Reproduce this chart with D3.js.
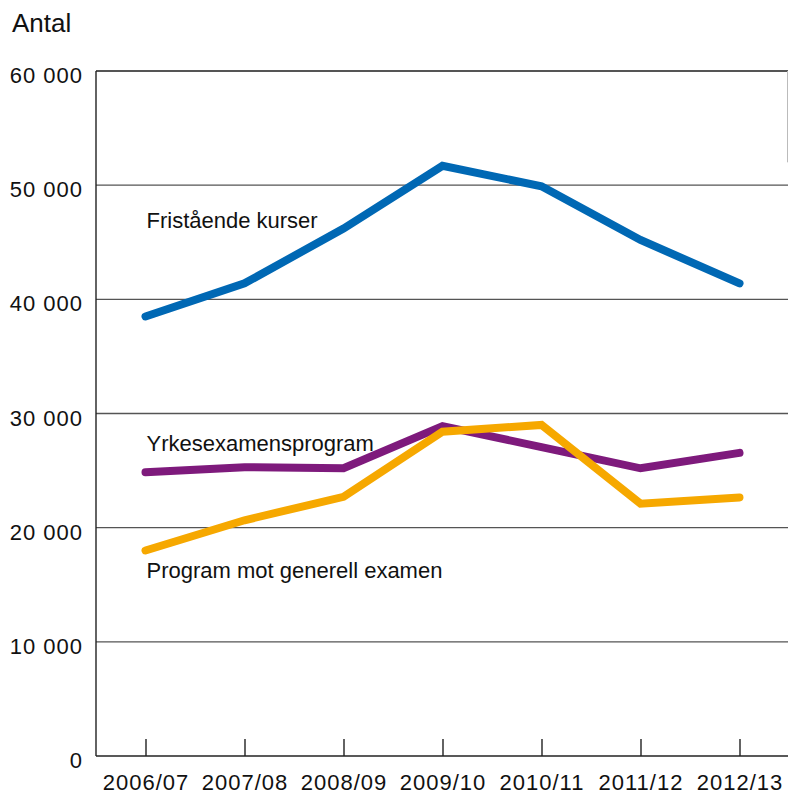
<!DOCTYPE html>
<html>
<head>
<meta charset="utf-8">
<script src="https://cdn.jsdelivr.net/npm/d3@7"></script>
<style>
  body { margin: 0; background: #fff; }
  text { font-family: "Liberation Sans", Arial, Helvetica, sans-serif; fill: #111; }
</style>
</head>
<body>
<div id="chart_container"></div>
<script>
// -- DATA -- //
const years = ["2006/07", "2007/08", "2008/09", "2009/10", "2010/11", "2011/12", "2012/13"];
const fristaende = [38500, 41400, 46200, 51700, 49900, 45200, 41400];
const yrkesexamen = [24850, 25300, 25200, 28900, 27050, 25200, 26550];
const generell = [18000, 20650, 22700, 28400, 29000, 22100, 22650];
const yTicks = [0, 10000, 20000, 30000, 40000, 50000, 60000];

// series table built from the arrays above (labelAt = baseline of the label, in data units)
const series = [
  { name: "Fristående kurser", values: fristaende, color: "#0068b4", labelAt: 46250 },
  { name: "Yrkesexamensprogram", values: yrkesexamen, color: "#7e1a7c", labelAt: 26750 },
  { name: "Program mot generell examen", values: generell, color: "#f6a800", labelAt: 15600 },
];

// -- SIZES -- //
const width = 788;
const height = 794;
const margin = { top: 71, right: 0, bottom: 38, left: 96 };

const svg = d3.select("#chart_container")
  .append("svg")
  .attr("width", width)
  .attr("height", height);

// scales
const x = d3.scalePoint()
  .domain(years)
  .range([margin.left, margin.left + 693])
  .padding(0.5);

const y = d3.scaleLinear()
  .domain([0, 60000])
  .range([height - margin.bottom, margin.top]);

// number format with space as thousands separator
const fmt = (d) => d3.format(",")(d).replace(/,/g, " ");

// gridlines
svg.append("g")
  .selectAll("line")
  .data(yTicks.filter((d) => d > 0))
  .join("line")
  .attr("x1", margin.left)
  .attr("x2", width)
  .attr("y1", (d) => y(d))
  .attr("y2", (d) => y(d))
  .attr("stroke", "#555")
  .attr("stroke-width", (d) => (d === 60000 ? 2 : 1.4));

// small light line at the right edge (as in the original)
svg.append("line")
  .attr("x1", width - 0.5)
  .attr("x2", width - 0.5)
  .attr("y1", y(60000))
  .attr("y2", y(52000))
  .attr("stroke", "#bbb")
  .attr("stroke-width", 1);

// y axis labels
svg.append("g")
  .selectAll("text")
  .data(yTicks)
  .join("text")
  .attr("x", 83)
  .attr("y", (d) => y(d) + 12)
  .attr("text-anchor", "end")
  .style("font-size", "22px")
  .style("letter-spacing", "1px")
  .text(fmt);

// y axis line
svg.append("line")
  .attr("x1", margin.left)
  .attr("x2", margin.left)
  .attr("y1", y(60000))
  .attr("y2", y(0))
  .attr("stroke", "#222")
  .attr("stroke-width", 1.4);

// x axis with ticks pointing up into the plot
const xAxis = svg.append("g")
  .attr("transform", `translate(0, ${y(0)})`)
  .call(d3.axisBottom(x).tickSize(-17).tickPadding(0).tickSizeOuter(0));

xAxis.select(".domain")
  .attr("d", `M${margin.left},0H${width}`)
  .attr("stroke", "#222")
  .attr("stroke-width", 1.6);
xAxis.selectAll(".tick line").attr("stroke", "#222").attr("stroke-width", 1.4);
xAxis.selectAll(".tick text")
  .attr("y", 34)
  .attr("dy", 0)
  .style("font-size", "22px")
  .style("letter-spacing", "1px")
  .style("fill", "#111")
  .style("font-family", "'Liberation Sans', Arial, sans-serif");

// unit label
svg.append("text")
  .attr("x", 12)
  .attr("y", 32)
  .style("font-size", "26px")
  .text("Antal");

// lines
const line = d3.line()
  .x((d, i) => x(years[i]))
  .y((d) => y(d));

svg.append("g")
  .selectAll("path")
  .data(series)
  .join("path")
  .attr("d", (s) => line(s.values))
  .attr("fill", "none")
  .attr("stroke", (s) => s.color)
  .attr("stroke-width", 8)
  .attr("stroke-linecap", "round")
  .attr("stroke-linejoin", "miter");

// series labels, placed over the first category
svg.append("g")
  .selectAll("text")
  .data(series)
  .join("text")
  .attr("x", x(years[0]) + 1)
  .attr("y", (s) => y(s.labelAt))
  .style("font-size", "22px")
  .text((s) => s.name);
</script>
</body>
</html>
